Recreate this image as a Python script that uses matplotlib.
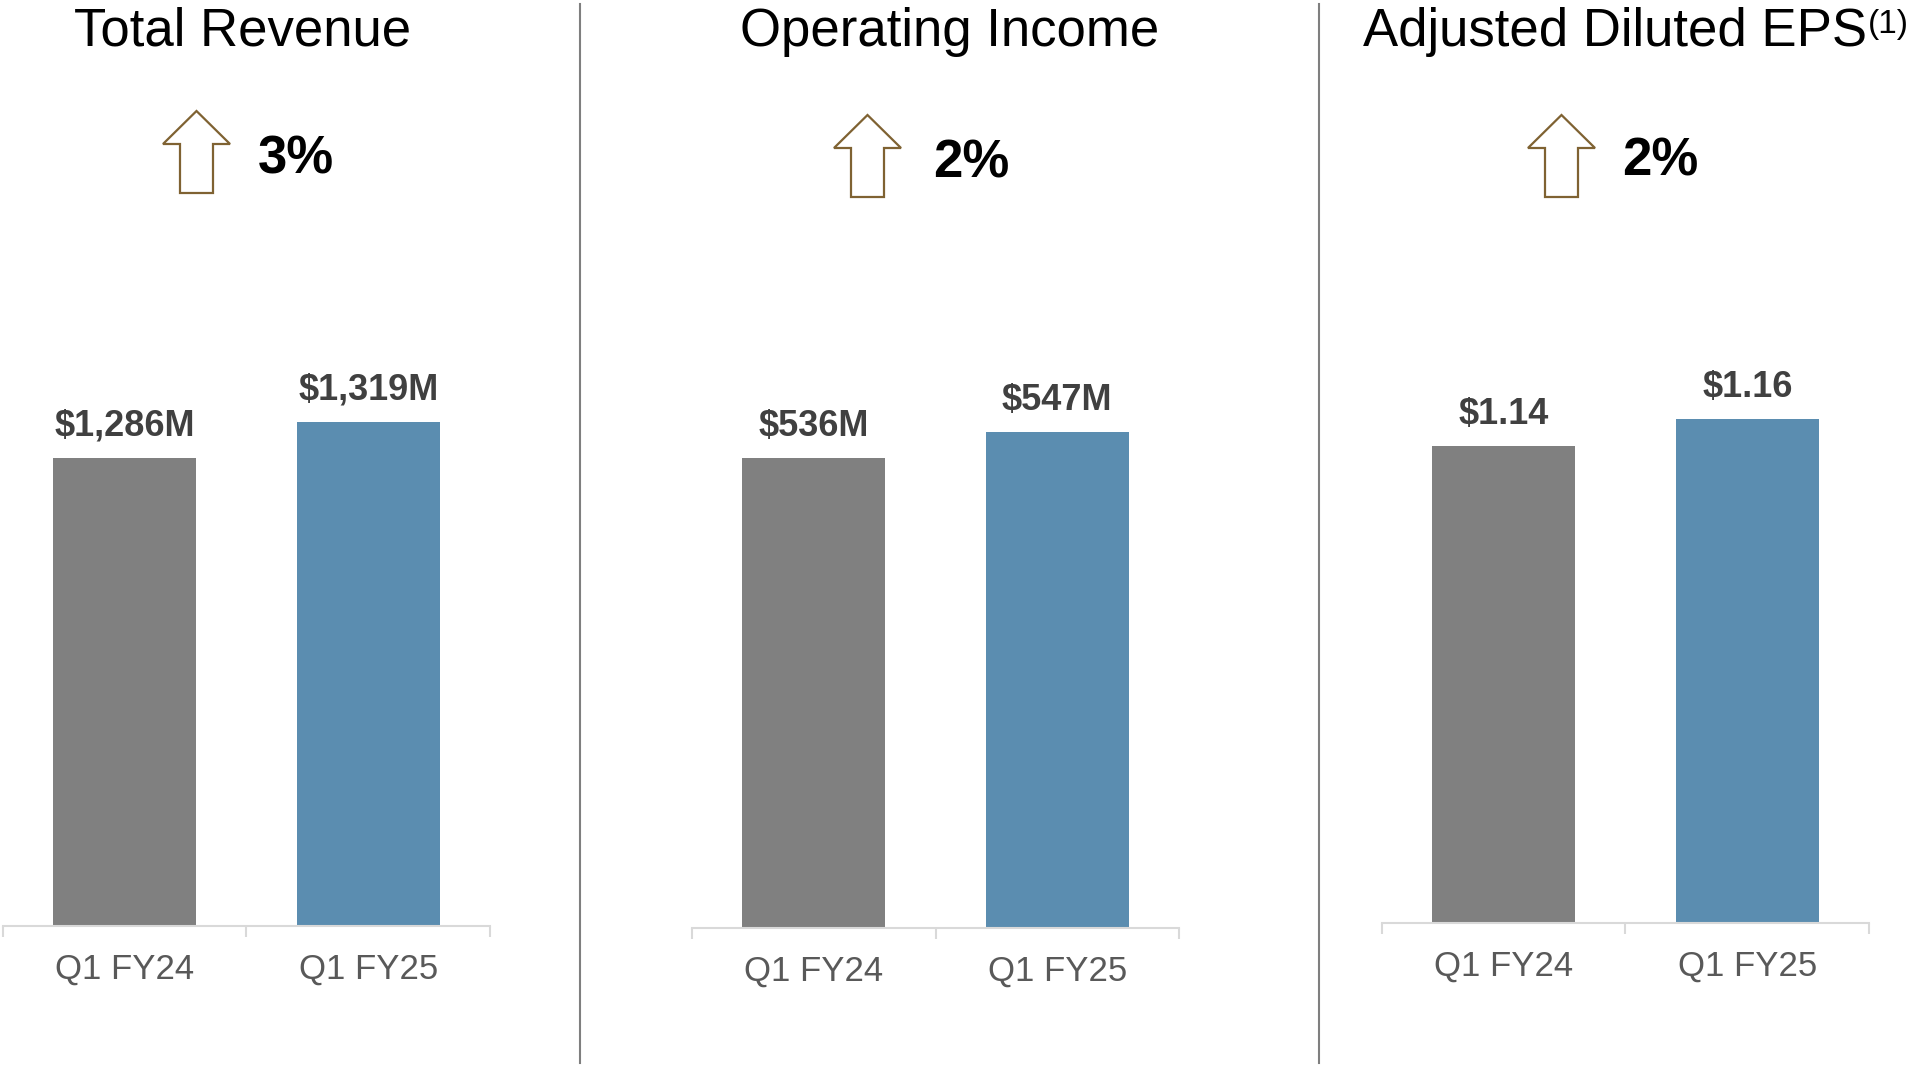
import matplotlib
matplotlib.use("Agg")
import matplotlib.pyplot as plt
from matplotlib.patches import Polygon

plt.rcParams['font.family'] = ['Liberation Sans', 'DejaVu Sans']

# data
periods = ["Q1 FY24", "Q1 FY25"]
titles = ["Total Revenue", "Operating Income", "Adjusted Diluted EPS"]
revenue = [1286, 1319]
op_income = [536, 547]
adj_eps = [1.14, 1.16]
revenue_labels = ["$1,286M", "$1,319M"]
op_income_labels = ["$536M", "$547M"]
eps_labels = ["$1.14", "$1.16"]
growth = ["3%", "2%", "2%"]

series = [revenue, op_income, adj_eps]
labels = [revenue_labels, op_income_labels, eps_labels]

bar_colors = ["#808080", "#5b8db0"]
axis_gray = "#d9d9d9"
arrow_color = "#7f6232"

W, H = 1915, 1066
DPI = 100
fig = plt.figure(figsize=(W / DPI, H / DPI), dpi=DPI)

# layout in pixels: left edge, baseline y, y-limits of each panel
panel_left = [3, 692, 1382]
panel_base = [926, 928, 923]
panel_ylim = [(853.5, 1431.8), (337, 602.8), (0.787, 1.248)]
axes_top = 300
panel_w = 487

for i in range(3):
    left = panel_left[i] / W
    bottom = 1 - panel_base[i] / H
    height = (panel_base[i] - axes_top) / H
    ax = fig.add_axes([left, bottom, panel_w / W, height])
    x = [0, 1]
    ax.bar(x, series[i], width=0.588, color=bar_colors, zorder=2)
    ax.set_xlim(-0.5, 1.5)
    ax.set_ylim(*panel_ylim[i])
    for xi, v, lab in zip(x, series[i], labels[i]):
        ax.annotate(lab, (xi, v), xytext=(0, 16), textcoords='offset points',
                    ha='center', va='baseline', fontsize=26, fontweight='bold',
                    color='#404040')
    for s in ['top', 'right', 'left']:
        ax.spines[s].set_visible(False)
    ax.spines['bottom'].set_color(axis_gray)
    ax.spines['bottom'].set_linewidth(1.5)
    ax.set_yticks([])
    ax.set_xticks([-0.5, 0.5, 1.5])
    ax.set_xticklabels([])
    ax.tick_params(axis='x', which='major', length=8, width=1.5, color=axis_gray)
    ax.set_xticks(x, minor=True)
    ax.set_xticklabels(periods, minor=True)
    ax.tick_params(axis='x', which='minor', length=0, pad=19, labelsize=25,
                   labelcolor='#595959')
    ax.patch.set_visible(False)

# overlay in pixel coordinates for titles, arrows, dividers
ov = fig.add_axes([0, 0, 1, 1], zorder=-1)
ov.set_xlim(0, W)
ov.set_ylim(H, 0)
ov.axis('off')

title_x = [243, 950, 1615]
for t, tx in zip(titles, title_x):
    ov.text(tx, 46, t, fontsize=38, ha='center', va='baseline', color='black')
ov.text(1868, 33, "(1)", fontsize=24, ha='left', va='baseline', color='black')


def up_arrow(ax, cx, top, w=67, h=82, shaft=33, head=33):
    pts = [(cx, top), (cx + w / 2, top + head), (cx + shaft / 2, top + head),
           (cx + shaft / 2, top + h), (cx - shaft / 2, top + h),
           (cx - shaft / 2, top + head), (cx - w / 2, top + head)]
    ax.add_patch(Polygon(pts, closed=True, facecolor='none',
                         edgecolor=arrow_color, linewidth=1.6))


arrow_cx = [196.5, 867.5, 1561.5]
arrow_top = [111, 115, 115]
pct_x = [258, 933, 1622]
pct_y = [174, 177, 175]
for i in range(3):
    up_arrow(ov, arrow_cx[i], arrow_top[i])
    ov.text(pct_x[i], pct_y[i], growth[i], fontsize=38, fontweight='bold',
            ha='left', va='baseline', color='black')

for dx in [580, 1319]:
    ov.plot([dx, dx], [4, 1063], color='#7f7f7f', linewidth=1.5)

fig.savefig("out.png", dpi=DPI)
